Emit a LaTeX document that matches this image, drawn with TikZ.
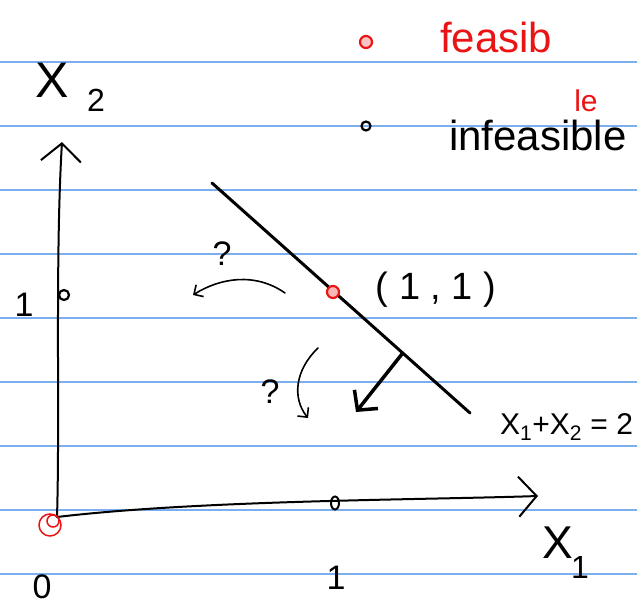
\documentclass[tikz,border=0pt]{standalone}
\usepackage{fontspec}
\setmainfont{Liberation Sans}
\usetikzlibrary{arrows.meta,shapes.geometric}
\definecolor{ruleblue}{RGB}{125,175,240}
\definecolor{inkred}{RGB}{235,20,20}
\begin{document}
\begin{tikzpicture}[x=1pt,y=-1pt,
  ruled/.style={draw=ruleblue,line width=1.6pt},
  ink/.style={line width=2pt,line cap=round,line join=round},
  hand/.style={font=\fontsize{42}{46}\selectfont,inner sep=0pt},
  small/.style={font=\fontsize{34}{38}\selectfont,inner sep=0pt},
  sub/.style={font=\fontsize{32}{36}\selectfont,inner sep=0pt},
  dotmark/.style={circle,draw,line width=2.2pt,inner sep=0pt,minimum size=9pt},
  redmark/.style={dotmark,draw=inkred,minimum size=12pt},
  axisarrow/.style={ink,-{Straight Barb[length=18pt,width=40pt,line width=2pt]}},
  smallarrow/.style={ink,line width=1.6pt,-{Straight Barb[length=7pt,width=14pt]}}
]
\useasboundingbox (0,0) rectangle (637,608);
\fill[white] (0,0) rectangle (637,608);
\foreach \yy in {62,126,190,254,318,382,446,510,574}
  \draw[ruled] (0,\yy) -- (637,\yy);

% legend
\node[redmark,fill=inkred!25] (feasdot) at (366,42) {};
\node[hand,text=inkred,anchor=base west] (feas) at (440,52) {feasib};
\node[dotmark] (infdot) at (366,126) {};
\node[hand,anchor=base west] (infeas) at (449,150) {infeasible};
\node[font=\fontsize{30}{34}\selectfont,inner sep=0pt,text=inkred] (le) at (586,101) {le};

% axes
\coordinate (o) at (57,517);
\coordinate (ytop) at (62,142);
\coordinate (xtop) at (538,496);
\draw[axisarrow] (o) .. controls (60,420) and (55,260) .. (ytop);
\draw[axisarrow] (o) .. controls (200,500) and (420,500) .. (xtop);
\node[draw=inkred,circle,line width=1.5pt,minimum size=22pt,inner sep=0pt] (origin) at (50,525) {};
\node[draw=inkred,circle,line width=1.5pt,minimum size=12pt,inner sep=0pt] (origin2) at (53,521) {};

% axis labels
\node[font=\fontsize{50}{54}\selectfont,inner sep=0pt] (x2) at (52,80) {X};
\node[sub] (x2s) at (96,100) {2};
\node[font=\fontsize{46}{50}\selectfont,inner sep=0pt] (x1) at (558,543) {X};
\node[sub] (x1s) at (580,567) {1};

% ticks
\node[dotmark,minimum size=10pt] (ty) at (64,295) {};
\node[small] (ly) at (24,305) {1};
\node[ellipse,draw,line width=2pt,inner sep=0pt,minimum width=8pt,minimum height=13pt] (tx) at (335,503) {};
\node[small] (lx) at (336,578) {1};
\node[small] (l0) at (42,587) {0};

% constraint line
\coordinate (lA) at (212,183);
\coordinate (lB) at (470,413);
\draw[ink,line width=3pt] (lA) -- (lB);
\node[redmark,fill=inkred!30] (p11) at (333,292) {};
\node[font=\fontsize{38}{42}\selectfont,inner sep=0pt] (p11l) at (436,290) {( 1 , 1 )};
\node[font=\fontsize{30}{34}\selectfont,anchor=west,inner sep=0pt] (eq) at (500,427) {X\textsubscript{1}+X\textsubscript{2} = 2};

% normal arrow
\coordinate (nA) at (402,354);
\coordinate (nB) at (356,412);
\draw[ink,line width=3.5pt,-{Straight Barb[length=14pt,width=30pt,line width=3.5pt]}] (nA) -- (nB);

% question arrows
\coordinate (qA) at (285,293);
\coordinate (qB) at (193,295);
\draw[smallarrow] (qA) .. controls (255,272) and (220,278) .. (qB);
\node[small] (q1) at (222,254) {?};
\coordinate (qC) at (318,348);
\coordinate (qD) at (308,418);
\draw[smallarrow] (qC) .. controls (295,370) and (292,398) .. (qD);
\node[small] (q2) at (270,392) {?};
\end{tikzpicture}
\end{document}
